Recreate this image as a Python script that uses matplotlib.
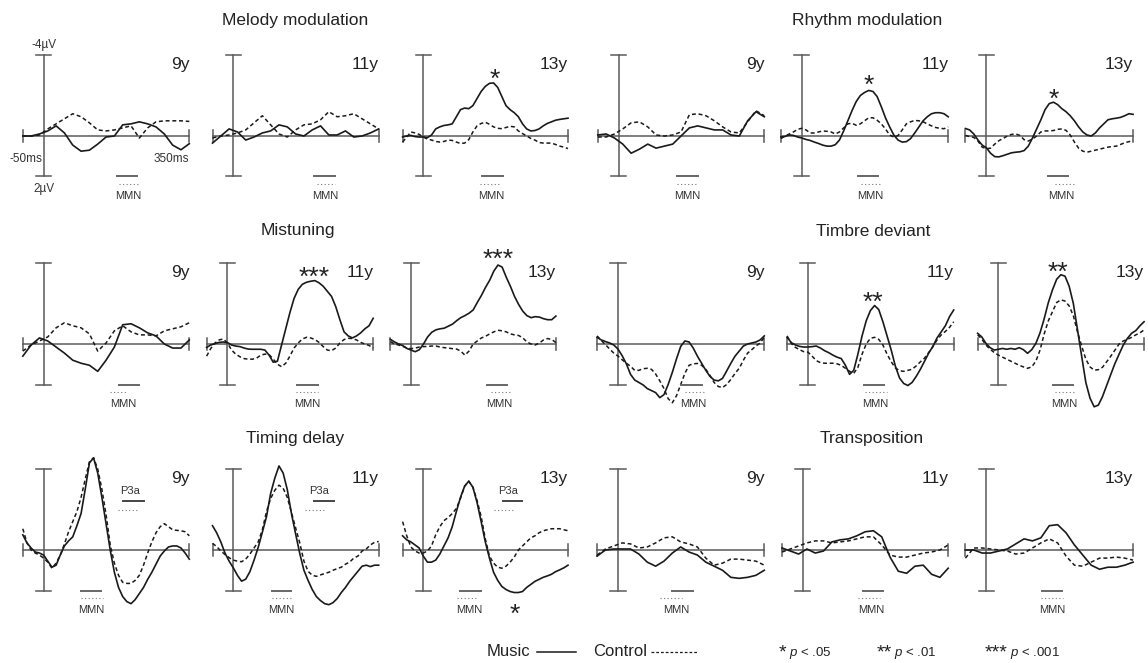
import numpy as np
import matplotlib.pyplot as plt

plt.rcParams['font.family'] = ['Liberation Sans', 'DejaVu Sans']
plt.rcParams['mathtext.fontset'] = 'custom'
plt.rcParams['mathtext.it'] = 'Liberation Sans:italic'
plt.rcParams['mathtext.rm'] = 'Liberation Sans'

W, H = 1148, 663

# sample times (ms); large responses are sampled every 10 ms, small ones every 20 ms
times10 = np.arange(-50, 351, 10)
times20 = np.arange(-50, 351, 20)

# amplitudes in microvolts (negative plotted up), music group / control group
mel9_mus = [0.0, 0.0, -0.1, -0.25, -0.5, -0.15, 0.45, 0.75, 0.7, 0.4, 0.05, 0.0, -0.55, -0.6, -0.7, -0.6, -0.45, -0.1, 0.45, 0.68, 0.38]
mel9_ctl = [0.0, 0.0, -0.05, -0.35, -0.6, -0.85, -1.1, -0.95, -0.65, -0.3, -0.25, -0.3, -0.4, -0.5, 0.1, -0.4, -0.7, -0.75, -0.75, -0.75, -0.72]
mel11_mus = [0.35, 0.0, -0.35, -0.2, 0.2, 0.05, -0.15, -0.25, -0.55, -0.45, -0.1, 0.0, -0.3, -0.5, -0.05, -0.05, -0.25, 0.05, 0.0, -0.15, -0.35]
mel11_ctl = [0.1, 0.0, -0.05, -0.15, -0.3, -0.65, -1.0, -0.55, -0.1, 0.05, -0.3, -0.55, -0.6, -0.8, -1.2, -0.95, -1.0, -1.1, -0.85, -0.6, -0.35]
mel13_mus = [0.05, 0.0, -0.03, 0.03, 0.05, 0.05, 0.08, -0.05, -0.35, -0.45, -0.52, -0.55, -0.6, -0.95, -1.3, -1.38, -1.35, -1.5, -1.85, -2.2, -2.45,
             -2.6, -2.62, -2.4, -1.95, -1.5, -1.3, -1.15, -0.95, -0.6, -0.35, -0.25, -0.27, -0.35, -0.5, -0.62, -0.7, -0.78, -0.82, -0.85, -0.88]
mel13_ctl = [0.3, 0.05, -0.2, -0.15, -0.08, 0.05, 0.15, 0.2, 0.27, 0.3, 0.27, 0.2, 0.22, 0.3, 0.37, 0.35, 0.18, -0.2, -0.5, -0.62, -0.68,
             -0.58, -0.45, -0.38, -0.36, -0.42, -0.48, -0.45, -0.25, -0.12, 0.0, 0.12, 0.2, 0.32, 0.35, 0.35, 0.35, 0.42, 0.5, 0.55, 0.62]

rhy9_mus = [-0.05, -0.1, 0.1, 0.4, 0.85, 0.65, 0.4, 0.6, 0.5, 0.4, 0.0, -0.4, -0.5, -0.4, -0.3, -0.3, -0.05, 0.0, -0.75, -1.2, -0.95]
rhy9_ctl = [0.05, 0.05, -0.1, -0.35, -0.65, -0.7, -0.45, -0.05, 0.0, -0.05, -0.2, -1.05, -1.1, -1.0, -0.75, -0.45, -0.2, -0.15, -0.7, -1.25, -1.0]
rhy11_mus = [0.05, 0.02, -0.05, -0.03, 0.05, 0.1, 0.17, 0.22, 0.3, 0.37, 0.45, 0.5, 0.5, 0.43, 0.2, -0.25, -0.75, -1.25, -1.7, -2.0, -2.15,
             -2.25, -2.2, -1.95, -1.45, -0.9, -0.45, -0.05, 0.2, 0.3, 0.28, 0.13, -0.15, -0.45, -0.75, -0.95, -1.1, -1.15, -1.15, -1.1, -0.95]
rhy11_ctl = [0.13, 0.0, -0.1, -0.2, -0.33, -0.38, -0.3, -0.15, -0.15, -0.2, -0.25, -0.23, -0.2, -0.1, -0.2, -0.4, -0.6, -0.63, -0.53, -0.6, -0.75,
             -0.9, -0.9, -0.78, -0.6, -0.35, -0.05, 0.05, -0.02, -0.3, -0.6, -0.7, -0.77, -0.75, -0.7, -0.6, -0.5, -0.42, -0.38, -0.36, -0.45]
rhy13_mus = [-0.37, -0.3, -0.1, 0.2, 0.45, 0.58, 0.85, 1.02, 1.03, 0.97, 0.9, 0.83, 0.8, 0.78, 0.72, 0.5, 0.1, -0.35, -0.8, -1.3, -1.6,
             -1.67, -1.55, -1.35, -1.2, -1.0, -0.75, -0.45, -0.2, -0.05, 0.0, -0.15, -0.4, -0.6, -0.8, -0.85, -0.88, -0.92, -1.0, -1.1, -1.07]
rhy13_ctl = [-0.03, 0.03, 0.07, 0.25, 0.55, 0.63, 0.6, 0.4, 0.23, 0.12, 0.0, -0.08, -0.1, -0.03, 0.18, 0.25, 0.15, 0.0, -0.2, -0.25, -0.25,
             -0.27, -0.33, -0.35, -0.28, -0.05, 0.3, 0.6, 0.75, 0.8, 0.75, 0.7, 0.65, 0.6, 0.55, 0.52, 0.5, 0.42, 0.33, 0.28, 0.22]

mis9_mus = [0.6, 0.05, -0.3, -0.15, 0.15, 0.45, 0.8, 0.95, 1.05, 1.35, 0.8, 0.15, -0.95, -1.0, -0.8, -0.55, -0.4, 0.0, 0.2, 0.2, -0.2]
mis9_ctl = [0.35, 0.05, -0.15, -0.35, -0.8, -1.05, -0.9, -0.8, -0.5, 0.35, -0.05, -0.65, -0.9, -0.6, -0.45, -0.45, -0.4, -0.65, -0.75, -0.85, -1.05]
mis11_mus = [0.17, 0.05, -0.02, -0.08, -0.1, -0.07, 0.05, 0.1, 0.13, 0.2, 0.25, 0.26, 0.26, 0.26, 0.3, 0.55, 0.9, 0.85, 0.05, -0.75, -1.55,
             -2.25, -2.7, -2.95, -3.05, -3.1, -3.13, -3.02, -2.85, -2.6, -2.35, -1.85, -1.2, -0.6, -0.4, -0.3, -0.4, -0.55, -0.75, -0.9, -1.27]
mis11_ctl = [0.6, 0.22, -0.05, -0.2, -0.25, -0.05, 0.3, 0.5, 0.63, 0.72, 0.75, 0.75, 0.7, 0.55, 0.5, 0.52, 0.75, 1.0, 1.12, 0.95, 0.6,
             0.2, -0.05, -0.25, -0.33, -0.3, -0.22, -0.08, 0.13, 0.3, 0.33, 0.2, -0.05, -0.22, -0.28, -0.27, -0.2, -0.08, 0.0, 0.07, 0.2]
mis13_mus = [-0.23, -0.1, 0.0, 0.08, 0.22, 0.3, 0.38, 0.28, 0.0, -0.35, -0.58, -0.7, -0.75, -0.78, -0.88, -0.98, -1.15, -1.3, -1.4, -1.52, -1.68,
             -2.05, -2.4, -2.8, -3.15, -3.6, -3.9, -3.8, -3.3, -2.85, -2.35, -1.95, -1.62, -1.4, -1.3, -1.35, -1.33, -1.25, -1.2, -1.2, -1.38]
mis13_ctl = [-0.12, 0.0, 0.05, 0.12, 0.2, 0.23, 0.2, 0.15, 0.13, 0.12, 0.1, 0.1, 0.15, 0.18, 0.2, 0.23, 0.25, 0.35, 0.55, 0.35, 0.0,
             -0.15, -0.3, -0.38, -0.5, -0.6, -0.68, -0.65, -0.6, -0.5, -0.45, -0.42, -0.3, -0.1, 0.0, 0.05, -0.05, -0.2, -0.27, -0.22, -0.07]

tb9_mus = [-0.33, -0.2, -0.12, -0.05, 0.05, 0.25, 0.58, 0.98, 1.5, 1.78, 1.9, 2.02, 2.2, 2.3, 2.4, 2.65, 2.5, 2.0, 1.4, 0.73, 0.12,
           -0.15, -0.1, 0.2, 0.6, 0.95, 1.3, 1.6, 1.78, 1.82, 1.7, 1.33, 0.95, 0.6, 0.35, 0.1, 0.0, -0.05, -0.1, -0.2, -0.4]
tb9_ctl = [-0.4, -0.17, 0.03, 0.25, 0.45, 0.6, 0.78, 0.95, 1.1, 1.3, 1.3, 1.22, 1.2, 1.25, 1.48, 1.82, 2.2, 2.7, 2.9, 2.55, 2.0,
           1.45, 1.05, 0.98, 0.96, 1.05, 1.25, 1.55, 1.9, 2.1, 2.15, 2.0, 1.75, 1.45, 1.2, 0.8, 0.45, 0.28, 0.1, -0.05, -0.33]
tb11_mus = [-0.33, -0.07, 0.05, 0.12, 0.15, 0.15, 0.13, 0.1, 0.2, 0.33, 0.43, 0.55, 0.65, 0.72, 1.05, 1.5, 1.3, 0.5, -0.4, -1.15, -1.65,
            -1.9, -1.7, -1.1, -0.4, 0.3, 1.1, 1.68, 1.95, 2.05, 1.9, 1.6, 1.25, 0.85, 0.45, 0.12, -0.3, -0.6, -0.9, -1.35, -1.68]
tb11_ctl = [-0.4, -0.03, 0.17, 0.28, 0.38, 0.4, 0.6, 0.82, 0.92, 0.95, 0.95, 0.95, 0.98, 1.05, 1.2, 1.35, 1.45, 1.15, 0.5, 0.0, -0.28,
            -0.33, -0.23, 0.05, 0.5, 0.88, 1.18, 1.32, 1.35, 1.3, 1.25, 1.08, 0.88, 0.7, 0.42, 0.13, -0.2, -0.45, -0.62, -0.82, -1.1]
tb13_mus = [-0.53, -0.35, -0.03, 0.18, 0.3, 0.26, 0.22, 0.26, 0.22, 0.26, 0.18, 0.28, 0.46, 0.28, -0.03, -0.55, -1.25, -2.05, -2.68, -3.2, -3.42,
            -3.35, -2.85, -2.0, -0.7, 0.6, 1.9, 2.67, 3.1, 3.02, 2.6, 2.05, 1.5, 0.96, 0.5, 0.05, -0.28, -0.53, -0.66, -0.9, -1.1]
tb13_ctl = [-0.45, -0.25, 0.05, 0.26, 0.42, 0.55, 0.65, 0.75, 0.85, 0.95, 1.05, 1.13, 1.2, 1.13, 0.85, 0.3, -0.5, -1.15, -1.6, -2.05, -2.18,
            -2.12, -1.88, -1.4, -0.6, 0.1, 0.75, 1.13, 1.29, 1.27, 1.15, 0.88, 0.6, 0.3, 0.0, -0.15, -0.23, -0.33, -0.45, -0.55, -0.7]

td9_mus = [-0.75, -0.35, -0.1, 0.1, 0.15, 0.25, 0.55, 0.85, 0.75, 0.25, -0.2, -0.45, -0.65, -1.2, -1.8, -3.0, -4.3, -4.55, -3.8, -2.6, -1.3,
           0.0, 1.1, 1.85, 2.3, 2.55, 2.65, 2.45, 2.15, 1.85, 1.45, 1.1, 0.7, 0.3, 0.05, -0.15, -0.2, -0.2, -0.1, 0.15, 0.45]
td9_ctl = [-1.05, -0.35, 0.0, 0.15, 0.25, 0.4, 0.6, 0.9, 0.65, 0.25, -0.3, -0.9, -1.4, -1.9, -2.6, -3.5, -4.35, -4.55, -4.0, -3.0, -1.75,
           -0.25, 0.65, 1.25, 1.6, 1.65, 1.65, 1.5, 1.25, 0.75, 0.15, -0.4, -0.85, -1.15, -1.3, -1.15, -1.0, -0.97, -0.95, -0.9, -0.7]
td11_mus = [-1.2, -0.85, -0.4, 0.15, 0.55, 0.88, 1.25, 1.54, 1.44, 1.07, 0.5, -0.13, -0.88, -1.65, -2.8, -3.55, -4.15, -3.8, -2.98, -1.8, -0.8,
            0.17, 1.0, 1.5, 1.95, 2.3, 2.5, 2.65, 2.7, 2.6, 2.4, 2.1, 1.85, 1.55, 1.3, 1.05, 0.8, 0.75, 0.82, 0.75, 0.75]
td11_ctl = [-0.33, -0.17, 0.05, 0.22, 0.38, 0.5, 0.55, 0.58, 0.45, 0.2, -0.1, -0.4, -1.0, -1.9, -2.55, -2.95, -3.2, -3.05, -2.6, -1.85, -1.1,
            -0.35, 0.55, 1.05, 1.25, 1.3, 1.23, 1.16, 1.1, 1.0, 0.92, 0.85, 0.7, 0.6, 0.4, 0.3, 0.05, -0.05, -0.25, -0.38, -0.42]
td13_mus = [-0.7, -0.5, -0.4, -0.25, -0.1, 0.3, 0.6, 0.6, 0.5, 0.2, -0.2, -0.6, -1.15, -1.9, -2.6, -3.15, -3.4, -3.1, -2.35, -1.4, -0.4,
            0.4, 1.1, 1.5, 1.8, 1.95, 2.05, 2.1, 2.1, 2.05, 1.85, 1.7, 1.55, 1.45, 1.35, 1.28, 1.2, 1.07, 0.98, 0.88, 0.75]
td13_ctl = [-1.4, -0.7, -0.15, 0.05, 0.15, 0.15, 0.05, -0.2, -0.75, -1.15, -1.45, -1.6, -1.8, -2.05, -2.55, -3.15, -3.4, -3.1, -2.45, -1.65, -0.55,
            0.3, 0.65, 0.85, 0.9, 0.8, 0.6, 0.35, 0.0, -0.2, -0.4, -0.6, -0.7, -0.85, -0.95, -1.0, -1.05, -1.05, -1.05, -1.0, -0.95]

tr9_mus = [0.3, 0.0, -0.05, -0.05, -0.05, 0.2, 0.6, 0.8, 0.55, 0.15, -0.15, 0.1, 0.25, 0.6, 0.8, 1.0, 1.35, 1.4, 1.35, 1.25, 1.0]
tr9_ctl = [0.25, -0.05, -0.2, -0.35, -0.3, -0.1, -0.15, -0.35, -0.6, -0.65, -0.4, -0.3, -0.15, 0.4, 0.75, 0.65, 0.45, 0.45, 0.5, 0.55, 0.75]
tr11_mus = [-0.1, 0.05, 0.2, -0.05, 0.15, 0.05, -0.4, -0.5, -0.55, -0.7, -0.9, -0.95, -0.65, 0.35, 1.05, 1.15, 0.8, 0.75, 1.2, 1.35, 0.9]
tr11_ctl = [0.1, -0.05, -0.2, -0.35, -0.45, -0.45, -0.35, -0.4, -0.45, -0.55, -0.65, -0.65, -0.25, 0.25, 0.35, 0.35, 0.25, 0.15, 0.1, 0.0, -0.25]
tr13_mus = [0.0, 0.0, 0.15, 0.15, 0.05, -0.05, -0.3, -0.55, -0.45, -0.6, -1.2, -1.25, -0.85, -0.25, 0.25, 0.75, 0.95, 0.85, 0.85, 0.75, 0.6]
tr13_ctl = [0.4, -0.1, -0.1, -0.05, 0.0, 0.05, 0.2, 0.15, -0.1, -0.35, -0.55, -0.35, 0.3, 0.75, 0.8, 0.6, 0.4, 0.4, 0.35, 0.4, 0.5]

conditions = ['Melody modulation', 'Rhythm modulation', 'Mistuning',
              'Timbre deviant', 'Timing delay', 'Transposition']
ages = ['9y', '11y', '13y']

# panels in reading order, 3 rows x 6 columns
music = [mel9_mus, mel11_mus, mel13_mus, rhy9_mus, rhy11_mus, rhy13_mus,
         mis9_mus, mis11_mus, mis13_mus, tb9_mus, tb11_mus, tb13_mus,
         td9_mus, td11_mus, td13_mus, tr9_mus, tr11_mus, tr13_mus]
control = [mel9_ctl, mel11_ctl, mel13_ctl, rhy9_ctl, rhy11_ctl, rhy13_ctl,
           mis9_ctl, mis11_ctl, mis13_ctl, tb9_ctl, tb11_ctl, tb13_ctl,
           td9_ctl, td11_ctl, td13_ctl, tr9_ctl, tr11_ctl, tr13_ctl]

# MMN windows (ms): music group bar, control group dotted
mmn_mus = [(176, 224), (195, 244), (143, 193), (141, 191), (135, 183), (146, 194),
           (180, 229), (168, 217), (184, 233), (150, 200), (134, 182), (131, 180),
           (91, 138), (92, 139), (90, 139), (130, 179), (145, 193), (132, 181)]
mmn_ctl = [(182, 231), (201, 244), (137, 186), (141, 191), (142, 192), (163, 211),
           (160, 200), (165, 217), (193, 242), (161, 209), (138, 191), (135, 184),
           (91, 142), (92, 142), (82, 132), (101, 152), (133, 186), (131, 183)]
# P3a windows for timing delay
p3a_mus = [(191, 240), (195, 242), (193, 239)]
p3a_ctl = [(178, 226), (173, 219), (170, 216)]

# significance marks
star_panel = [2, 4, 5, 7, 8, 10, 11, 14]
star_time = [172, 161, 160, 207, 210, 157, 142, 221]
star_amp = [-3.18, -2.85, -2.19, -3.65, -4.56, -2.42, -3.9, 2.8]
star_text = ['*', '*', '*', '***', '***', '**', '**', '*']

# panel geometry in pixels
row_zero = [136, 344, 550]
col_left = [[22.8, 212.5, 402.6, 597.8, 780.9, 965.4],
            [22.8, 206.6, 390.4, 597.1, 787.1, 977.6],
            [22.8, 212.5, 402.6, 597.1, 782.0, 965.4]]
col_right = [[189.3, 378.7, 568.0, 764.3, 948.2, 1133.1],
             [189.3, 373.2, 555.9, 764.3, 953.7, 1144.1],
             [189.3, 378.7, 568.0, 764.3, 948.2, 1133.1]]
uv_px = 20.25

axis_col = '#5a5a5a'
ink = '#1a1a1a'

fig = plt.figure(figsize=(W / 100, H / 100), dpi=100)
ax0 = fig.add_axes([0, 0, 1, 1])
ax0.set_xlim(0, W)
ax0.set_ylim(H, 0)
ax0.axis('off')

title_pos = [(295, 20), (867, 20), (298, 231), (873, 231), (295, 438), (872, 438)]
for name, (x, y) in zip(conditions, title_pos):
    ax0.text(x, y, name, ha='center', va='center', fontsize=12.5, color='#222222')

star_size = 19
for i in range(18):
    r, c = divmod(i, 6)
    left = col_left[r][c]
    right = col_right[r][c]
    z = row_zero[r]
    top = z - 4 * uv_px
    bot = z + 2 * uv_px
    ax = fig.add_axes([left / W, 1 - bot / H, (right - left) / W, (bot - top) / H])
    ax.set_xlim(-50, 350)
    ax.set_ylim(2, -4)
    ax.axis('off')

    # axes with end caps
    ax.plot([-50, 350], [0, 0], color=axis_col, lw=1.1, clip_on=False)
    ax.plot([-50, -50], [-0.3, 0.3], color=axis_col, lw=1.1, clip_on=False)
    ax.plot([350, 350], [-0.3, 0.3], color=axis_col, lw=1.1, clip_on=False)
    ax.plot([0, 0], [-4, 2], color=axis_col, lw=1.1, clip_on=False)
    ax.plot([-18, 18], [-4, -4], color=axis_col, lw=1.1, clip_on=False)
    ax.plot([-18, 18], [2, 2], color=axis_col, lw=1.1, clip_on=False)

    t = times10 if len(music[i]) == len(times10) else times20
    ax.plot(t, control[i], color=ink, lw=1.1, ls=(0, (2.6, 1.8)), clip_on=False)
    ax.plot(t, music[i], color=ink, lw=1.2, clip_on=False)

    ax.text(350, -3.3, ages[c % 3], ha='right', va='baseline', fontsize=12.5, color='#222222')

    # MMN windows
    m0, m1 = mmn_mus[i]
    c0, c1 = mmn_ctl[i]
    ax.plot([m0, m1], [2, 2], color='#666666', lw=1.4, clip_on=False)
    ax.plot([c0, c1], [2.35, 2.35], color='#777777', lw=0.8, ls=(0, (1, 2.2)), clip_on=False)
    ax.text((m0 + m1 + c0 + c1) / 4, 2.95, 'MMN', ha='center', va='center',
            fontsize=8, color='#333333')

    if r == 2 and c < 3:
        p0, p1 = p3a_mus[c]
        q0, q1 = p3a_ctl[c]
        ax.plot([p0, p1], [-2.4, -2.4], color='#444444', lw=1.4, clip_on=False)
        ax.plot([q0, q1], [-2.0, -2.0], color='#777777', lw=0.8, ls=(0, (1, 2.2)), clip_on=False)
        ax.text((p0 + p1 + q0 + q1) / 4, -2.9, 'P3a', ha='center', va='center',
                fontsize=8, color='#333333')

    if i == 0:
        ax.text(0, -4.2, '-4µV', ha='center', va='bottom', fontsize=8.5, color='#333333')
        ax.text(0, 2.3, '2µV', ha='center', va='top', fontsize=8.5, color='#333333')
        ax.text(-4, 1.15, '-50ms', ha='right', va='center', fontsize=8.5, color='#333333')
        ax.text(350, 1.15, '350ms', ha='right', va='center', fontsize=8.5, color='#333333')

    for p, ts, v, s in zip(star_panel, star_time, star_amp, star_text):
        if p == i:
            # shift baseline so the asterisk centre sits on the mark
            off = 0.57 * star_size * 100 / 72 / uv_px
            ax.text(ts, v + off, s, ha='center', va='baseline', fontsize=star_size,
                    color='#222222')

# legend row
ly = 652
ax0.text(487, ly, 'Music', ha='left', va='center', fontsize=12, color='#222222')
ax0.plot([537, 576], [ly, ly], color=ink, lw=1.1)
ax0.text(593, ly, 'Control', ha='left', va='center', fontsize=12, color='#222222')
ax0.plot([651, 697], [ly, ly], color=ink, lw=0.9, ls=(0, (2.2, 1.6)))

leg_stars = ['*', '**', '***']
leg_p = ['$p$ < .05', '$p$ < .01', '$p$ < .001']
leg_x = [779, 877, 985]
for s, ptxt, x in zip(leg_stars, leg_p, leg_x):
    ax0.text(x, ly + 5, s, ha='left', va='baseline', fontsize=14, color='#222222')
    ax0.text(x + 7.6 * len(s) + 2, ly + 4, ptxt, ha='left', va='baseline', fontsize=9.5,
             color='#222222')

fig.savefig('out.png', dpi=100)
